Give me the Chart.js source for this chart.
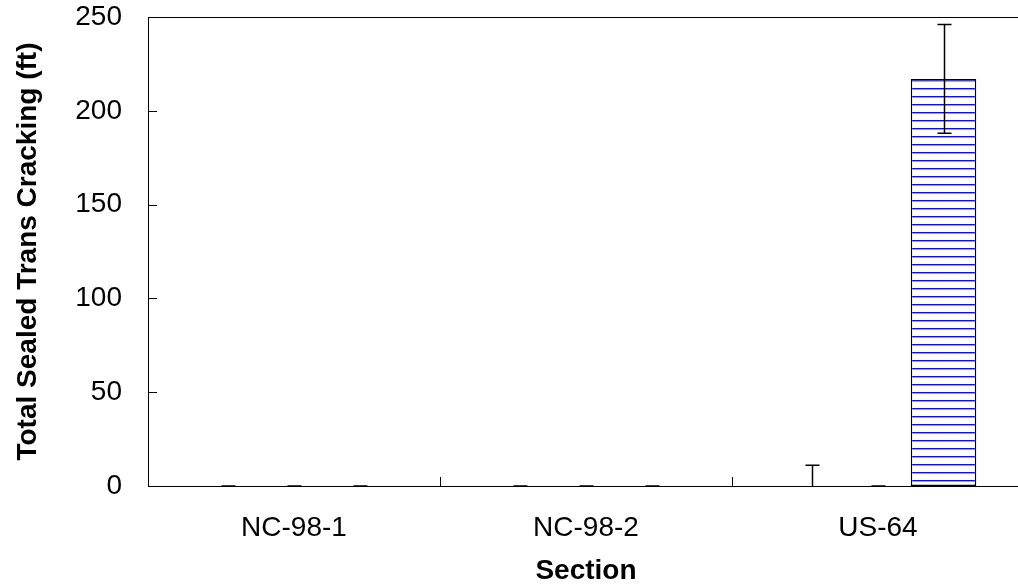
<!DOCTYPE html>
<html>
<head>
<meta charset="utf-8">
<script src="https://cdn.jsdelivr.net/npm/chart.js@4.4.0/dist/chart.umd.min.js"></script>
<style>
  html, body { margin: 0; padding: 0; background: #fff; overflow: hidden; }
  #wrap { width: 1024px; height: 588px; }
</style>
</head>
<body>
<div id="wrap"><canvas id="myChart" width="1024" height="588"></canvas></div>
<script>
// data
const sections = ['NC-98-1', 'NC-98-2', 'US-64'];
const seriesA = [0, 0, 0];
const errA = [0, 0, 11];
const seriesB = [0, 0, 0];
const errB = [0, 0, 0];
const seriesC = [0, 0, 217];
const errC = [0, 0, 29];
const yTicks = [0, 50, 100, 150, 200, 250];

const FONT = "Arial, 'Liberation Sans', sans-serif";

// horizontal line fill like the excel pattern
function makePattern() {
    const c = document.createElement('canvas');
    c.width = 8; c.height = 8;
    const g = c.getContext('2d');
    g.fillStyle = '#ffffff';
    g.fillRect(0, 0, 8, 8);
    g.fillStyle = 'rgb(10,10,235)';
    g.fillRect(0, 0, 8, 1);
    g.fillStyle = 'rgba(40,40,235,0.45)';
    g.fillRect(0, 1, 8, 1);
    return g.createPattern(c, 'repeat');
}
const ctx = document.getElementById('myChart').getContext('2d');
const stripes = makePattern();

const errors = [errA, errB, errC];

const extras = {
    id: 'extras',
    afterDatasetsDraw(chart) {
        const c = chart.ctx;
        const area = chart.chartArea;
        const y = chart.scales.y;
        c.save();
        c.strokeStyle = '#000';
        c.lineWidth = 1;
        // top border
        c.beginPath();
        c.moveTo(area.left, area.top + 0.5);
        c.lineTo(area.right, area.top + 0.5);
        c.stroke();
        // inside y ticks
        yTicks.forEach(v => {
            const py = Math.round(y.getPixelForValue(v)) + 0.5;
            c.beginPath();
            c.moveTo(area.left, py);
            c.lineTo(area.left + 9, py);
            c.stroke();
        });
        // category separators
        const catW = (area.right - area.left) / sections.length;
        for (let k = 1; k < sections.length; k++) {
            const px = Math.round(area.left + k * catW) + 0.5;
            c.beginPath();
            c.moveTo(px, area.bottom);
            c.lineTo(px, area.bottom - 9);
            c.stroke();
        }
        // error bars
        c.beginPath();
        c.rect(area.left, area.top, area.right - area.left, area.bottom - area.top + 1);
        c.clip();
        c.lineWidth = 1.5;
        chart.data.datasets.forEach((ds, i) => {
            const meta = chart.getDatasetMeta(i);
            meta.data.forEach((bar, j) => {
                const v = ds.data[j];
                const e = errors[i][j];
                const px = Math.round(bar.x) + 0.5;
                const hi = y.getPixelForValue(v + e);
                const lo = y.getPixelForValue(v - e);
                c.beginPath();
                c.moveTo(px, hi);
                c.lineTo(px, lo);
                c.moveTo(px - 7, hi);
                c.lineTo(px + 7, hi);
                c.moveTo(px - 7, lo);
                c.lineTo(px + 7, lo);
                c.stroke();
            });
        });
        c.restore();
    }
};

const myChart = new Chart(ctx, {
    type: 'bar',
    data: {
        labels: sections,
        datasets: [
            {
                label: 'A',
                data: seriesA,
                backgroundColor: stripes,
                borderColor: '#000',
                borderWidth: 0
            },
            {
                label: 'B',
                data: seriesB,
                backgroundColor: stripes,
                borderColor: '#000',
                borderWidth: 0
            },
            {
                label: 'C',
                data: seriesC,
                backgroundColor: stripes,
                borderColor: '#000',
                borderWidth: 1.5,
                borderSkipped: false
            }
        ]
    },
    options: {
        responsive: false,
        animation: false,
        layout: { padding: { top: 17, left: 0, right: 0, bottom: 0 } },
        plugins: {
            legend: { display: false },
            tooltip: { enabled: false }
        },
        datasets: {
            bar: { categoryPercentage: 0.673, barPercentage: 1 }
        },
        scales: {
            x: {
                grid: { display: false, drawTicks: false },
                border: { display: true, color: '#000', width: 1 },
                ticks: {
                    color: '#000',
                    padding: 25,
                    font: { family: FONT, size: 28 }
                },
                title: {
                    display: true,
                    text: 'Section',
                    color: '#000',
                    padding: { top: 0, bottom: 0 },
                    font: { family: FONT, size: 28, weight: 'bold' }
                },
                afterFit(scale) {
                    scale.height = 102;
                    scale.paddingLeft = 0;
                    scale.paddingRight = 0;
                }
            },
            y: {
                min: 0,
                max: 250,
                grid: { display: false, drawTicks: false },
                border: { display: true, color: '#000', width: 1 },
                ticks: {
                    stepSize: 50,
                    color: '#000',
                    padding: 26,
                    font: { family: FONT, size: 28 }
                },
                title: {
                    display: true,
                    text: 'Total Sealed Trans Cracking (ft)',
                    color: '#000',
                    padding: { top: 11, bottom: 0 },
                    font: { family: FONT, size: 28, weight: 'bold' }
                },
                afterFit(scale) {
                    scale.width = 148;
                    scale.paddingTop = 0;
                    scale.paddingBottom = 0;
                }
            }
        }
    },
    plugins: [extras]
});
</script>
</body>
</html>
